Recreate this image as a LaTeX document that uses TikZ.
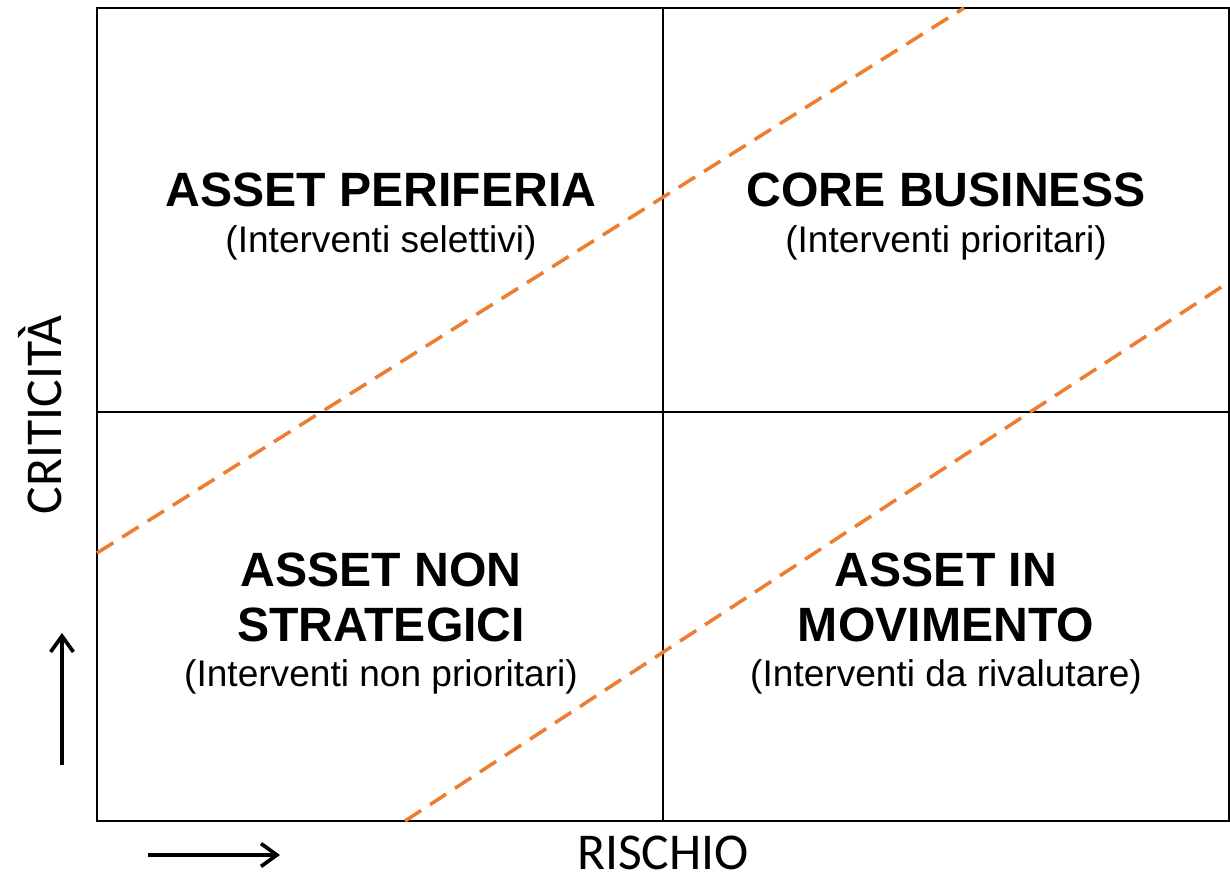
\documentclass[tikz,border=0pt]{standalone}
\usepackage{fontspec}
\setmainfont{Liberation Sans}
\newfontfamily\axisfont{Carlito}
\usetikzlibrary{arrows.meta}

\definecolor{ppOrange}{RGB}{237,125,49}

\tikzset{
  quadtitle/.style={font=\bfseries\fontsize{27.4}{31.3}\selectfont,align=center,inner sep=0pt},
  quadsub/.style={font=\fontsize{21.1}{24}\selectfont,inner sep=0pt},
  axislabel/.style={font=\axisfont\fontsize{29.4}{32}\selectfont,inner sep=0pt},
  trendline/.style={ppOrange,line width=2pt,dash pattern=on 11pt off 6pt},
  axisarrow/.style={line width=2.1pt,-{Straight Barb[length=9pt,width=13pt,line width=2.1pt]}}
}

\begin{document}
\begin{tikzpicture}
\useasboundingbox (0,0) rectangle (24.6,17.56);

 % matrice
 \draw[line width=1.2pt] (1.94,1.14) rectangle (24.58,17.4);
 \draw[line width=1.2pt] (13.26,1.14)--(13.26,17.4);
 \draw[line width=1.2pt] (1.94,9.32)--(24.58,9.32);

 % soglie
 \draw[trendline] (1.94,6.5)--(19.28,17.4);
 \draw[trendline] (8.1,1.14)--(24.58,11.92);

 % quadranti
 \node[quadtitle] (perif) at (7.62,13.76) {ASSET PERIFERIA};
 \node[quadsub] (perifSub) at (7.62,12.7) {(Interventi selettivi)};
 \node[quadtitle] (core) at (18.92,13.76) {CORE BUSINESS};
 \node[quadsub] (coreSub) at (18.92,12.7) {(Interventi prioritari)};
 \node[quadtitle] (nonStrat) at (7.62,5.62) {ASSET NON\\STRATEGICI};
 \node[quadsub] (nonStratSub) at (7.62,4.02) {(Interventi non prioritari)};
 \node[quadtitle] (movim) at (18.92,5.62) {ASSET IN\\MOVIMENTO};
 \node[quadsub] (movimSub) at (18.92,4.02) {(Interventi da rivalutare)};

 % assi
 \node[axislabel,rotate=90] (critic) at (0.8,9.26) {CRITICITÀ};
 \node[axislabel] (rischio) at (13.26,0.5) {RISCHIO};
 \coordinate (vStart) at (1.24,2.26);
 \coordinate (vEnd) at (1.24,4.9);
 \coordinate (hStart) at (2.96,0.46);
 \coordinate (hEnd) at (5.6,0.46);
 \draw[axisarrow] (vStart)--(vEnd);
 \draw[axisarrow] (hStart)--(hEnd);
\end{tikzpicture}
\end{document}
